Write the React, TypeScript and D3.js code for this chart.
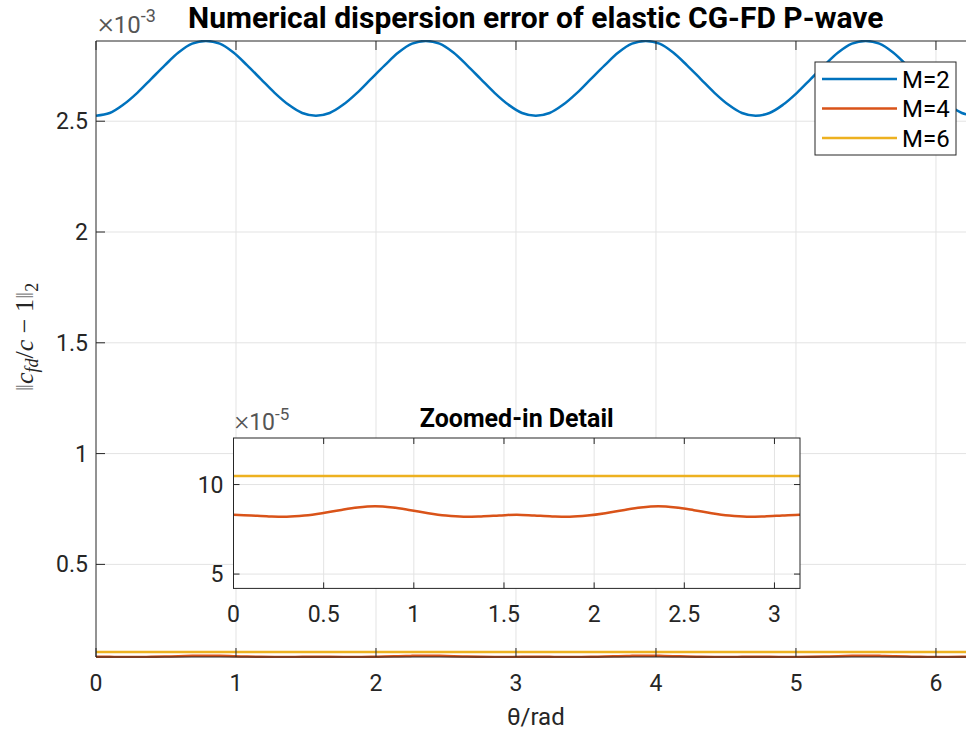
import React from "react";
import * as d3 from "d3";

// Propagation angle samples (rad), 0 .. 2π in steps of π/32
const THETA = [
  0, 0.098, 0.196, 0.295, 0.393, 0.491, 0.589, 0.687, 0.785, 0.884, 0.982, 1.08, 1.178, 1.276, 1.374, 1.473,
  1.571, 1.669, 1.767, 1.865, 1.963, 2.062, 2.16, 2.258, 2.356, 2.454, 2.553, 2.651, 2.749, 2.847, 2.945, 3.043,
  3.142, 3.24, 3.338, 3.436, 3.534, 3.633, 3.731, 3.829, 3.927, 4.025, 4.123, 4.222, 4.32, 4.418, 4.516, 4.614,
  4.712, 4.811, 4.909, 5.007, 5.105, 5.203, 5.301, 5.4, 5.498, 5.596, 5.694, 5.792, 5.89, 5.989, 6.087, 6.185,
  6.283,
];

// Dispersion error for operator half-length M = 2
const ERR_M2 = [
  2.525e-3, 2.537e-3, 2.575e-3, 2.628e-3, 2.69e-3, 2.752e-3, 2.81e-3, 2.85e-3, 2.862e-3, 2.85e-3, 2.81e-3, 2.752e-3, 2.69e-3, 2.628e-3, 2.575e-3, 2.537e-3,
  2.525e-3, 2.537e-3, 2.575e-3, 2.628e-3, 2.69e-3, 2.752e-3, 2.81e-3, 2.85e-3, 2.862e-3, 2.85e-3, 2.81e-3, 2.752e-3, 2.69e-3, 2.628e-3, 2.575e-3, 2.537e-3,
  2.525e-3, 2.537e-3, 2.575e-3, 2.628e-3, 2.69e-3, 2.752e-3, 2.81e-3, 2.85e-3, 2.862e-3, 2.85e-3, 2.81e-3, 2.752e-3, 2.69e-3, 2.628e-3, 2.575e-3, 2.537e-3,
  2.525e-3, 2.537e-3, 2.575e-3, 2.628e-3, 2.69e-3, 2.752e-3, 2.81e-3, 2.85e-3, 2.862e-3, 2.85e-3, 2.81e-3, 2.752e-3, 2.69e-3, 2.628e-3, 2.575e-3, 2.537e-3,
  2.525e-3,
];

// Dispersion error for M = 4
const ERR_M4 = [
  8.32e-5, 8.27e-5, 8.22e-5, 8.2e-5, 8.27e-5, 8.4e-5, 8.57e-5, 8.72e-5, 8.79e-5, 8.72e-5, 8.57e-5, 8.4e-5, 8.27e-5, 8.2e-5, 8.22e-5, 8.27e-5,
  8.32e-5, 8.27e-5, 8.22e-5, 8.2e-5, 8.27e-5, 8.4e-5, 8.57e-5, 8.72e-5, 8.79e-5, 8.72e-5, 8.57e-5, 8.4e-5, 8.27e-5, 8.2e-5, 8.22e-5, 8.27e-5,
  8.32e-5, 8.27e-5, 8.22e-5, 8.2e-5, 8.27e-5, 8.4e-5, 8.57e-5, 8.72e-5, 8.79e-5, 8.72e-5, 8.57e-5, 8.4e-5, 8.27e-5, 8.2e-5, 8.22e-5, 8.27e-5,
  8.32e-5, 8.27e-5, 8.22e-5, 8.2e-5, 8.27e-5, 8.4e-5, 8.57e-5, 8.72e-5, 8.79e-5, 8.72e-5, 8.57e-5, 8.4e-5, 8.27e-5, 8.2e-5, 8.22e-5, 8.27e-5,
  8.32e-5,
];

// Dispersion error for M = 6
const ERR_M6 = [
  10.48e-5, 10.48e-5, 10.48e-5, 10.48e-5, 10.48e-5, 10.48e-5, 10.48e-5, 10.48e-5, 10.48e-5, 10.48e-5, 10.48e-5, 10.48e-5, 10.48e-5, 10.48e-5, 10.48e-5, 10.48e-5,
  10.48e-5, 10.48e-5, 10.48e-5, 10.48e-5, 10.48e-5, 10.48e-5, 10.48e-5, 10.48e-5, 10.48e-5, 10.48e-5, 10.48e-5, 10.48e-5, 10.48e-5, 10.48e-5, 10.48e-5, 10.48e-5,
  10.48e-5, 10.48e-5, 10.48e-5, 10.48e-5, 10.48e-5, 10.48e-5, 10.48e-5, 10.48e-5, 10.48e-5, 10.48e-5, 10.48e-5, 10.48e-5, 10.48e-5, 10.48e-5, 10.48e-5, 10.48e-5,
  10.48e-5, 10.48e-5, 10.48e-5, 10.48e-5, 10.48e-5, 10.48e-5, 10.48e-5, 10.48e-5, 10.48e-5, 10.48e-5, 10.48e-5, 10.48e-5, 10.48e-5, 10.48e-5, 10.48e-5, 10.48e-5,
  10.48e-5,
];

const SERIES_NAMES = ["M=2", "M=4", "M=6"];
const SERIES_COLORS = ["#0072BD", "#D95319", "#EDB120"];

// Main axes ticks
const MAIN_X_TICKS = [0, 1, 2, 3, 4, 5, 6];
const MAIN_Y_TICKS = [0.5e-3, 1e-3, 1.5e-3, 2e-3, 2.5e-3];
const MAIN_Y_LABELS = ["0.5", "1", "1.5", "2", "2.5"];
const MAIN_X_MAX = 6.2832;

// Inset axes ticks and limits
const INSET_X_TICKS = [0, 0.5, 1, 1.5, 2, 2.5, 3];
const INSET_Y_TICKS = [5e-5, 10e-5];
const INSET_Y_LABELS = ["5", "10"];
const INSET_X_MAX = 3.1416;
const INSET_Y_LIM = [4.2e-5, 12.6e-5];

const TITLE = "Numerical dispersion error of elastic CG-FD P-wave";
const INSET_TITLE = "Zoomed-in Detail";
const X_LABEL = "θ/rad";

const W = 966;
const H = 733;
const AX = "#262626";
const GRID = "#e3e3e3";
const FONT = "Roboto, 'Noto Sans', sans-serif";

const main = { left: 96, right: 975.6, top: 41, bottom: 657 };
const inset = { left: 233.5, right: 800, top: 438, bottom: 588.4 };

const SERIES = [ERR_M2, ERR_M4, ERR_M6];

export default function App() {
  const allVals = SERIES.flat();
  const [yMin, yMax] = d3.extent(allVals) as [number, number];

  const x = d3.scaleLinear().domain([0, MAIN_X_MAX]).range([main.left, main.right]);
  const y = d3.scaleLinear().domain([yMin, yMax]).range([main.bottom, main.top]);

  const xi = d3.scaleLinear().domain([0, INSET_X_MAX]).range([inset.left, inset.right]);
  const yi = d3.scaleLinear().domain(INSET_Y_LIM).range([inset.bottom, inset.top]);

  const mainLine = (vals: number[]) =>
    d3
      .line<number>()
      .x((_, i) => x(THETA[i]))
      .y((v) => y(v))
      .curve(d3.curveCatmullRom.alpha(0.5))(vals) || "";

  // samples covering the inset range (first half turn plus one for clipping)
  const insetIdx = THETA.map((_, i) => i).filter((i) => THETA[i] <= INSET_X_MAX + 0.1);
  const insetLine = (vals: number[]) =>
    d3
      .line<number>()
      .x((i) => xi(THETA[i]))
      .y((i) => yi(vals[i]))
      .curve(d3.curveCatmullRom.alpha(0.5))(insetIdx) || "";

  const tickMain = 9;
  const tickInset = 6;

  return (
    <svg
      width={W}
      height={H}
      style={{ position: "absolute", left: 0, top: 0, display: "block", background: "#fff" }}
      fontFamily={FONT}
    >
      <defs>
        <clipPath id="mainClip">
          <rect x={main.left} y={main.top - 1} width={main.right - main.left} height={main.bottom - main.top + 2} />
        </clipPath>
        <clipPath id="insetClip">
          <rect x={inset.left} y={inset.top} width={inset.right - inset.left} height={inset.bottom - inset.top} />
        </clipPath>
      </defs>
      <rect width={W} height={H} fill="#fff" />

      {/* main grid */}
      {MAIN_X_TICKS.filter((t) => t > 0).map((t) => (
        <line key={"gx" + t} x1={x(t)} x2={x(t)} y1={main.top} y2={main.bottom} stroke={GRID} strokeWidth={1} />
      ))}
      {MAIN_Y_TICKS.map((t) => (
        <line key={"gy" + t} x1={main.left} x2={main.right} y1={y(t)} y2={y(t)} stroke={GRID} strokeWidth={1} />
      ))}

      {/* main curves */}
      <g clipPath="url(#mainClip)">
        {SERIES.map((s, k) => (
          <path key={k} d={mainLine(s)} fill="none" stroke={SERIES_COLORS[k]} strokeWidth={2.5} />
        ))}
      </g>

      {/* main axes box and ticks */}
      <g stroke={AX} strokeWidth={1} fill="none">
        <line x1={main.left} x2={main.left} y1={main.top} y2={main.bottom} />
        <line x1={main.left} x2={main.right} y1={main.bottom} y2={main.bottom} />
        <line x1={main.left} x2={main.right} y1={main.top} y2={main.top} />
        <line x1={main.right} x2={main.right} y1={main.top} y2={main.bottom} />
        {MAIN_X_TICKS.map((t) => (
          <g key={"tx" + t}>
            <line x1={x(t)} x2={x(t)} y1={main.bottom} y2={main.bottom - tickMain} />
            <line x1={x(t)} x2={x(t)} y1={main.top} y2={main.top + tickMain} />
          </g>
        ))}
        {MAIN_Y_TICKS.map((t) => (
          <line key={"ty" + t} x1={main.left} x2={main.left + tickMain} y1={y(t)} y2={y(t)} />
        ))}
      </g>
      <g fill={AX} fontSize={23}>
        {MAIN_X_TICKS.map((t) => (
          <text key={"lx" + t} x={x(t)} y={main.bottom + 34} textAnchor="middle">
            {String(t)}
          </text>
        ))}
        {MAIN_Y_TICKS.map((t, i) => (
          <text key={"ly" + t} x={main.left - 8} y={y(t)} dy="0.35em" textAnchor="end">
            {MAIN_Y_LABELS[i]}
          </text>
        ))}
        <text x={98} y={33} fill="#555">
          <tspan fontSize={30} fontWeight={300}>×</tspan>
          <tspan fontSize={24}>10</tspan>
          <tspan fontSize={18} dy={-11}>
            -3
          </tspan>
        </text>
        <text x={(main.left + main.right) / 2} y={725} textAnchor="middle" fontSize={24}>
          {X_LABEL}
        </text>
      </g>

      {/* y-axis label */}
      <g transform={`translate(33, ${(main.top + main.bottom) / 2 - 12}) rotate(-90)`}>
        <text textAnchor="middle" fontFamily="'Liberation Serif', 'DejaVu Serif', serif" fontSize={26} fill={AX}>
          <tspan fill="#8a8a8a">‖</tspan>
          <tspan fontStyle="italic">c</tspan>
          <tspan fontStyle="italic" fontSize={18} dy={5}>
            fd
          </tspan>
          <tspan dy={-5}>/</tspan>
          <tspan fontStyle="italic">c</tspan>
          <tspan> − 1</tspan>
          <tspan fill="#8a8a8a">‖</tspan>
          <tspan fontSize={18} dy={5}>
            2
          </tspan>
        </text>
      </g>

      {/* title */}
      <text x={(main.left + main.right) / 2} y={28} textAnchor="middle" fontWeight="bold" fontSize={30} fill="#000">
        {TITLE}
      </text>

      {/* legend */}
      <g>
        <rect x={815} y={62} width={141} height={93} fill="#fff" stroke={AX} strokeWidth={1} />
        {SERIES_NAMES.map((name, k) => (
          <g key={name}>
            <line x1={822} x2={897} y1={79 + k * 29.5} y2={79 + k * 29.5} stroke={SERIES_COLORS[k]} strokeWidth={2.5} />
            <text x={902} y={79 + k * 29.5} dy="0.36em" fontSize={24} fill="#000">
              {name}
            </text>
          </g>
        ))}
      </g>

      {/* inset axes */}
      <rect x={inset.left} y={inset.top} width={inset.right - inset.left} height={inset.bottom - inset.top} fill="#fff" />
      {INSET_X_TICKS.filter((t) => t > 0).map((t) => (
        <line key={"igx" + t} x1={xi(t)} x2={xi(t)} y1={inset.top} y2={inset.bottom} stroke={GRID} strokeWidth={1} />
      ))}
      {INSET_Y_TICKS.map((t) => (
        <line key={"igy" + t} x1={inset.left} x2={inset.right} y1={yi(t)} y2={yi(t)} stroke={GRID} strokeWidth={1} />
      ))}
      <g clipPath="url(#insetClip)">
        {[ERR_M4, ERR_M6].map((s, k) => (
          <path key={k} d={insetLine(s)} fill="none" stroke={SERIES_COLORS[k + 1]} strokeWidth={2.5} />
        ))}
      </g>
      <g stroke={AX} strokeWidth={1} fill="none">
        <rect x={inset.left} y={inset.top} width={inset.right - inset.left} height={inset.bottom - inset.top} />
        {INSET_X_TICKS.map((t) => (
          <g key={"itx" + t}>
            <line x1={xi(t)} x2={xi(t)} y1={inset.bottom} y2={inset.bottom - tickInset} />
            <line x1={xi(t)} x2={xi(t)} y1={inset.top} y2={inset.top + tickInset} />
          </g>
        ))}
        {INSET_Y_TICKS.map((t) => (
          <g key={"ity" + t}>
            <line x1={inset.left} x2={inset.left + tickInset} y1={yi(t)} y2={yi(t)} />
            <line x1={inset.right} x2={inset.right - tickInset} y1={yi(t)} y2={yi(t)} />
          </g>
        ))}
      </g>
      <g fill={AX} fontSize={23}>
        {INSET_X_TICKS.map((t) => (
          <text key={"ilx" + t} x={xi(t)} y={inset.bottom + 34} textAnchor="middle">
            {String(t)}
          </text>
        ))}
        {INSET_Y_TICKS.map((t, i) => (
          <text key={"ily" + t} x={inset.left - 10} y={yi(t)} dy="0.35em" textAnchor="end">
            {INSET_Y_LABELS[i]}
          </text>
        ))}
        <text x={inset.left + 1} y={430} fill="#555">
          <tspan fontSize={28} fontWeight={300}>×</tspan>
          <tspan fontSize={23}>10</tspan>
          <tspan fontSize={17} dy={-10}>
            -5
          </tspan>
        </text>
      </g>
      <text
        x={(inset.left + inset.right) / 2}
        y={427}
        textAnchor="middle"
        fontWeight="bold"
        fontSize={25}
        fill="#000"
      >
        {INSET_TITLE}
      </text>
    </svg>
  );
}
